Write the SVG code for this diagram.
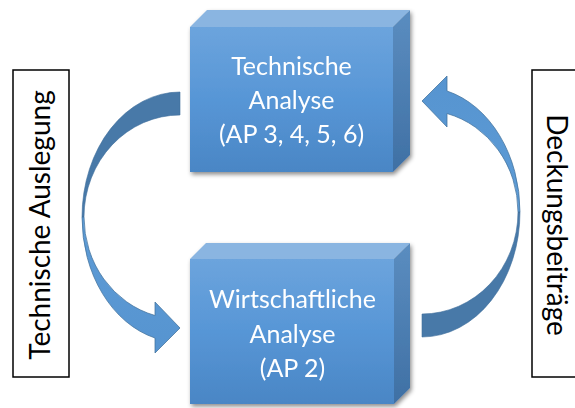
<svg xmlns="http://www.w3.org/2000/svg" width="575" height="408" viewBox="0 0 575 408">
  <defs>
    <style>
      .front-top { fill: url(#gFront); }
      .top { fill: #8ab5e1; }
      .side { fill: url(#gSide); }
      .box-text { font-family: Lato, "Open Sans", "Liberation Sans", sans-serif; font-size: 25px; fill: #ffffff; text-anchor: middle; }
      .label-frame { fill: #ffffff; stroke: #000000; stroke-width: 1.5; }
      .label-text { font-family: Lato, "Open Sans", "Liberation Sans", sans-serif; font-size: 28px; fill: #000000; text-anchor: middle; }
      .arrow-back { fill: #4879a8; stroke: #3f6f9c; stroke-width: 0.6; }
      .arrow-front { fill: url(#gArrow); stroke: #41719c; stroke-width: 0.75; }
    </style>
    <linearGradient id="gFront" x1="0" y1="0" x2="0" y2="1">
      <stop offset="0" stop-color="#6ca4dd"/>
      <stop offset="0.5" stop-color="#5796d6"/>
      <stop offset="1" stop-color="#4a86c5"/>
    </linearGradient>
    <linearGradient id="gSide" x1="0" y1="0" x2="0" y2="1">
      <stop offset="0" stop-color="#5b8dc0"/>
      <stop offset="1" stop-color="#3f70a4"/>
    </linearGradient>
    <linearGradient id="gArrow" x1="0" y1="0" x2="0" y2="1">
      <stop offset="0" stop-color="#5e9cd6"/>
      <stop offset="1" stop-color="#5694d0"/>
    </linearGradient>
    <filter id="shadow" x="-10%" y="-10%" width="125%" height="125%">
      <feDropShadow dx="1.5" dy="2.5" stdDeviation="2" flood-color="#000000" flood-opacity="0.45"/>
    </filter>
    <!-- curved arrow: back half (upper) and front half with head (lower) -->
    <g id="curvedArrow">
      <path class="arrow-back" d="M 180 92 A 98 125 0 0 0 82 217 L 84 217 A 96 102 0 0 1 180 115 Z"/>
      <path class="arrow-front" d="M 82 217 A 98 125 0 0 0 155 338 L 155 353 L 180 328 L 155 302 L 155 315.5 A 96 102 0 0 1 84 217 Z"/>
    </g>
  </defs>

  <!-- label frames -->
  <g id="label-left">
    <rect class="label-frame" x="13" y="70" width="56" height="307"/>
    <text class="label-text" transform="translate(50,225) rotate(-90)">Technische Auslegung</text>
  </g>
  <g id="label-right">
    <rect class="label-frame" x="532" y="70" width="60" height="307"/>
    <text class="label-text" transform="translate(547,225) rotate(90)">Deckungsbeiträge</text>
  </g>

  <!-- connectors -->
  <g id="connectors">
    <use href="#curvedArrow"/>
    <use href="#curvedArrow" transform="rotate(180 301 214.5)"/>
  </g>

  <!-- upper block -->
  <g id="technische-analyse" filter="url(#shadow)">
    <polygon class="top" points="190,27 207,10 410,10 393,27"/>
    <polygon class="side" points="393,27 410,10 410,155 393,172"/>
    <rect class="front-top" x="190" y="27" width="203" height="145"/>
    <text class="box-text" x="291.5" y="75">Technische</text>
    <text class="box-text" x="291.5" y="109">Analyse</text>
    <text class="box-text" x="291.5" y="143">(AP 3, 4, 5, 6)</text>
  </g>

  <!-- lower block -->
  <g id="wirtschaftliche-analyse" filter="url(#shadow)">
    <polygon class="top" points="190,259 206,243 410,243 394,259"/>
    <polygon class="side" points="394,259 410,243 410,388 394,404"/>
    <rect class="front-top" x="190" y="259" width="204" height="145"/>
    <text class="box-text" x="292.5" y="308">Wirtschaftliche</text>
    <text class="box-text" x="292.5" y="343">Analyse</text>
    <text class="box-text" x="292.5" y="377">(AP 2)</text>
  </g>
</svg>
